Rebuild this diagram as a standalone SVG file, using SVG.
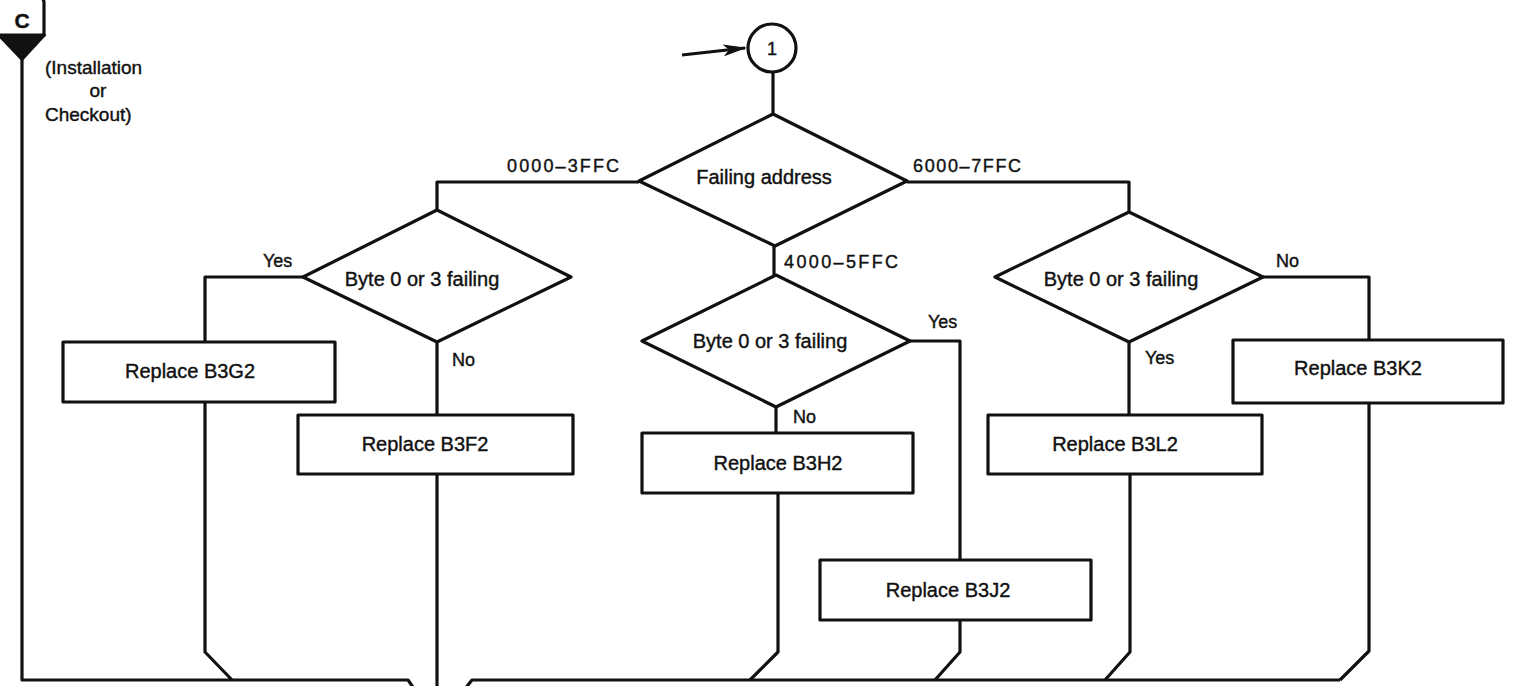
<svg xmlns="http://www.w3.org/2000/svg" width="1519" height="686" viewBox="0 0 1519 686">
<style>
.ln{fill:none;stroke:#111;stroke-width:3.2;stroke-linejoin:round;stroke-linecap:butt}
.shp{fill:#fff;stroke:#111;stroke-width:3.2;stroke-linejoin:round}
text{font-family:"Liberation Sans",Arial,sans-serif;fill:#111;stroke:#111;stroke-width:0.4}
.t{font-size:20px;text-anchor:middle}
.lb{font-size:18px}
</style>
<defs>
<marker id="ah" markerWidth="24" markerHeight="12" refX="22" refY="6" orient="auto" markerUnits="userSpaceOnUse">
<path d="M0,0 L24,6 L0,12 L6,6 Z" fill="#111"/>
</marker>
</defs>
<rect width="1519" height="686" fill="#fff"/>
<g id="connectors">
<line class="ln" x1="682" y1="55" x2="745" y2="48" marker-end="url(#ah)"/>
<path class="ln" d="M773,72 V114"/>
<path class="ln" d="M639,182 H437 V210"/>
<path class="ln" d="M907,182 H1129 V212"/>
<path class="ln" d="M774,246 V275"/>
<path class="ln" d="M303,277 H205 V342"/>
<path class="ln" d="M205,402 V652 L232,680"/>
<path class="ln" d="M437,342 V415"/>
<path class="ln" d="M437,474 V690"/>
<path class="ln" d="M910,341 H960 V560"/>
<path class="ln" d="M776,407 V433"/>
<path class="ln" d="M778,493 V652 L750,680"/>
<path class="ln" d="M960,620 V652 L935,680"/>
<path class="ln" d="M1263,277 H1369 V340"/>
<path class="ln" d="M1369,403 V651 L1340,680"/>
<path class="ln" d="M1129,342 V415"/>
<path class="ln" d="M1130,474 V652 L1105,680"/>
<path class="ln" d="M22,58 V680 H408 L415,690"/>
<path class="ln" d="M464,690 L472,680 H1340"/>
</g>
<g id="labels">
<text class="lb" x="507" y="172" font-size="19" textLength="112">0000–3FFC</text>
<text class="lb" x="913" y="172" font-size="19" textLength="108">6000–7FFC</text>
<text class="lb" x="784" y="268" font-size="19" textLength="114">4000–5FFC</text>
<text class="lb" x="263" y="267">Yes</text>
<text class="lb" x="452" y="366">No</text>
<text class="lb" x="928" y="328">Yes</text>
<text class="lb" x="793" y="423">No</text>
<text class="lb" x="1276" y="267">No</text>
<text class="lb" x="1145" y="364">Yes</text>
</g>
<g id="startC">
<path d="M-3,35 V-3 H38 Q44,-3 44,3 V35 Z" fill="#fff" stroke="#111" stroke-width="3.2"/>
<path d="M-2,35 H45 L22,60 Z" fill="#111" stroke="#111" stroke-width="2" stroke-linejoin="round"/>
<text x="22" y="28" font-size="21" font-weight="bold" text-anchor="middle" stroke-width="0">C</text>
<text x="45" y="74" font-size="19">(Installation</text>
<text x="98" y="97" font-size="19" text-anchor="middle">or</text>
<text x="45" y="121" font-size="19">Checkout)</text>
</g>
<g id="entry1">
<circle class="shp" cx="772" cy="48" r="24"/>
<text x="772" y="55" font-size="18" text-anchor="middle">1</text>
</g>
<g id="failingAddress">
<polygon class="shp" points="773,114 907,181 775,246 639,181"/>
<text class="t" x="764" y="184">Failing address</text>
</g>
<g id="byteLeft">
<polygon class="shp" points="437,210 571,277 437,342 303,277"/>
<text class="t" x="422" y="286">Byte 0 or 3 failing</text>
</g>
<g id="byteCenter">
<polygon class="shp" points="776,275 910,341 776,407 642,341"/>
<text class="t" x="770" y="348">Byte 0 or 3 failing</text>
</g>
<g id="byteRight">
<polygon class="shp" points="1129,212 1263,277 1129,342 995,277"/>
<text class="t" x="1121" y="286">Byte 0 or 3 failing</text>
</g>
<g id="B3G2">
<rect class="shp" x="63" y="342" width="272" height="60"/>
<text class="t" x="190" y="378">Replace B3G2</text>
</g>
<g id="B3F2">
<rect class="shp" x="298" y="415" width="275" height="59"/>
<text class="t" x="425" y="451">Replace B3F2</text>
</g>
<g id="B3H2">
<rect class="shp" x="642" y="433" width="271" height="60"/>
<text class="t" x="778" y="470">Replace B3H2</text>
</g>
<g id="B3J2">
<rect class="shp" x="820" y="560" width="271" height="60"/>
<text class="t" x="948" y="597">Replace B3J2</text>
</g>
<g id="B3L2">
<rect class="shp" x="988" y="415" width="274" height="59"/>
<text class="t" x="1115" y="451">Replace B3L2</text>
</g>
<g id="B3K2">
<rect class="shp" x="1233" y="340" width="270" height="63"/>
<text class="t" x="1358" y="375">Replace B3K2</text>
</g>
</svg>
